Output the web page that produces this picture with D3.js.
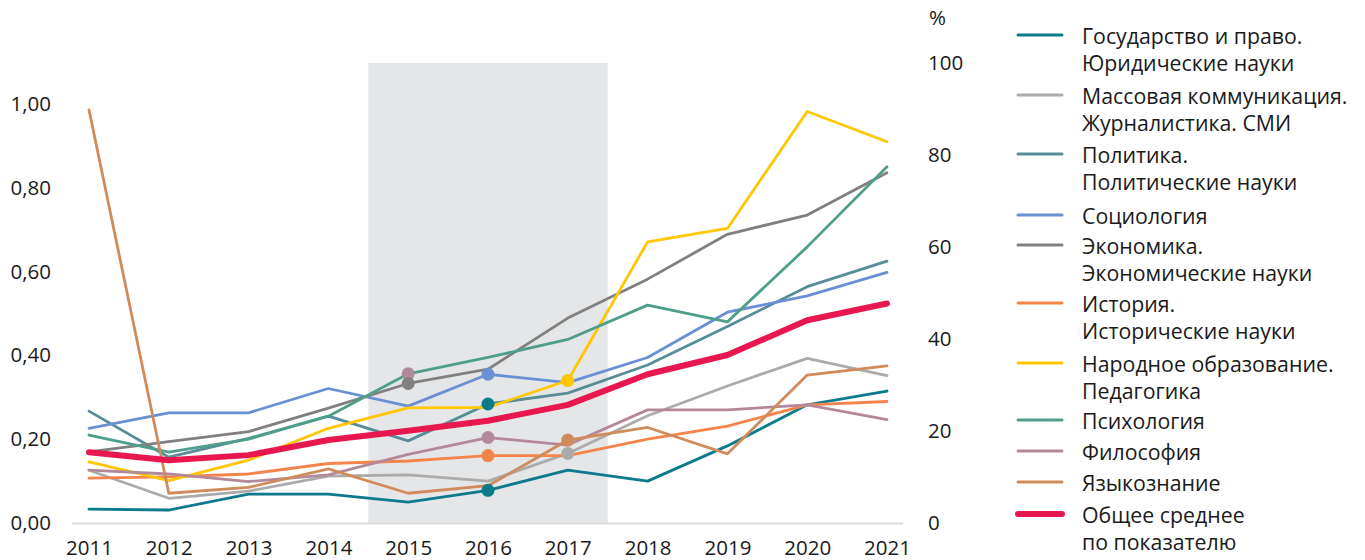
<!DOCTYPE html>
<html>
<head>
<meta charset="utf-8">
<script src="https://cdn.jsdelivr.net/npm/d3@7"></script>
<style>
  html, body { margin: 0; padding: 0; background: #fff; }
  svg { display: block; font-family: "Open Sans", "Noto Sans", sans-serif; }
</style>
</head>
<body>
<svg id="chart" width="1365" height="560"></svg>
<script>
// ---------- DATA ----------
const years = [2011, 2012, 2013, 2014, 2015, 2016, 2017, 2018, 2019, 2020, 2021];

const seriesNames = [
  ["Государство и право.", "Юридические науки"],
  ["Массовая коммуникация.", "Журналистика. СМИ"],
  ["Политика.", "Политические науки"],
  ["Социология"],
  ["Экономика.", "Экономические науки"],
  ["История.", "Исторические науки"],
  ["Народное образование.", "Педагогика"],
  ["Психология"],
  ["Философия"],
  ["Языкознание"],
  ["Общее среднее", "по показателю"]
];

const gosudarstvo   = [0.033, 0.031, 0.069, 0.069, 0.050, 0.078, 0.126, 0.100, 0.184, 0.282, 0.315];
const massovaya     = [0.126, 0.059, 0.076, 0.112, 0.115, 0.100, 0.166, 0.256, 0.327, 0.393, 0.352];
const politika      = [0.267, 0.157, 0.202, 0.255, 0.196, 0.284, 0.310, 0.377, 0.469, 0.564, 0.625];
const sociologiya   = [0.226, 0.263, 0.263, 0.321, 0.279, 0.355, 0.335, 0.395, 0.503, 0.542, 0.598];
const ekonomika     = [0.170, 0.194, 0.218, 0.274, 0.333, 0.367, 0.489, 0.582, 0.689, 0.735, 0.836];
const istoriya      = [0.107, 0.110, 0.117, 0.142, 0.148, 0.161, 0.161, 0.200, 0.231, 0.282, 0.290];
const pedagogika    = [0.146, 0.101, 0.150, 0.226, 0.275, 0.276, 0.340, 0.671, 0.703, 0.982, 0.910];
const psihologiya   = [0.210, 0.169, 0.200, 0.255, 0.356, 0.395, 0.438, 0.520, 0.480, 0.659, 0.850];
const filosofiya    = [0.126, 0.117, 0.099, 0.115, 0.164, 0.204, 0.186, 0.270, 0.270, 0.282, 0.247];
const yazykoznanie  = [0.986, 0.071, 0.085, 0.129, 0.071, 0.089, 0.198, 0.228, 0.165, 0.353, 0.375];
const obshee        = [0.169, 0.150, 0.162, 0.198, 0.220, 0.244, 0.282, 0.355, 0.401, 0.484, 0.524];

const seriesValues = [gosudarstvo, massovaya, politika, sociologiya, ekonomika, istoriya,
                      pedagogika, psihologiya, filosofiya, yazykoznanie, obshee];

const seriesColors = ["#0b7a8b", "#ababab", "#588d97", "#6a8fd2", "#808080", "#f5844a",
                      "#ffc700", "#4f9e8b", "#b3899a", "#cf8b5c", "#e8174f"];

const leftTicks  = [0, 0.2, 0.4, 0.6, 0.8, 1.0];
const rightTicks = [0, 20, 40, 60, 80, 100];

// highlighted period (band) and highlighted points: [year, series index, colour index]
const bandYears = [2014.5, 2017.5];
const markers = [
  [2015, 7, 8], [2015, 4, 4],
  [2016, 3, 3], [2016, 2, 0], [2016, 8, 8], [2016, 5, 5], [2016, 0, 0],
  [2017, 6, 6], [2017, 9, 9], [2017, 1, 1]
];

// ---------- CHART ----------
const svg = d3.select("#chart");

const x = d3.scaleLinear().domain([2011, 2021]).range([89, 887]);
const yL = d3.scaleLinear().domain([0, 1]).range([523, 104]);
const yR = d3.scaleLinear().domain([0, 100]).range([523, 63]);

// band
svg.append("rect")
  .attr("x", x(bandYears[0]))
  .attr("y", yR(100))
  .attr("width", x(bandYears[1]) - x(bandYears[0]))
  .attr("height", yR(0) - yR(100))
  .attr("fill", "#e5e6e8");

// baseline
svg.append("line")
  .attr("x1", 72).attr("x2", 903)
  .attr("y1", yL(0) + 0.5).attr("y2", yL(0) + 0.5)
  .attr("stroke", "#dcdcdc").attr("stroke-width", 2);

// left axis
const fmt = v => d3.format(".2f")(v).replace(".", ",");
const gL = svg.append("g")
  .attr("transform", "translate(51,0)")
  .call(d3.axisLeft(yL).tickValues(leftTicks).tickFormat(fmt).tickSize(0).tickPadding(0));
gL.select(".domain").remove();
gL.selectAll("text").attr("font-size", 20.5).attr("fill", "#1a1a1a")
  .attr("font-family", "'Open Sans', sans-serif");

// right axis
const gR = svg.append("g")
  .attr("transform", "translate(928,0)")
  .call(d3.axisRight(yR).tickValues(rightTicks).tickFormat(d3.format("d")).tickSize(0).tickPadding(0));
gR.select(".domain").remove();
gR.selectAll("text").attr("font-size", 20.5).attr("fill", "#1a1a1a")
  .attr("font-family", "'Open Sans', sans-serif");
svg.append("text").attr("x", 929).attr("y", 25).attr("font-size", 20.5).attr("fill", "#1a1a1a").text("%");

// bottom axis
const gB = svg.append("g")
  .attr("transform", `translate(0,${yL(0) + 17})`)
  .call(d3.axisBottom(x).tickValues(years).tickFormat(d3.format("d")).tickSize(0).tickPadding(0));
gB.select(".domain").remove();
gB.selectAll("text").attr("font-size", 20.5).attr("fill", "#1a1a1a")
  .attr("font-family", "'Open Sans', sans-serif");

// lines
const line = d3.line().x((d, i) => x(years[i])).y(d => yL(d));
seriesValues.forEach((vals, i) => {
  svg.append("path")
    .datum(vals)
    .attr("d", line)
    .attr("fill", "none")
    .attr("stroke", seriesColors[i])
    .attr("stroke-width", i === 10 ? 6 : 2.8)
    .attr("stroke-linejoin", "round")
    .attr("stroke-linecap", "round");
});

// markers
markers.forEach(([yr, si, ci]) => {
  const idx = years.indexOf(yr);
  svg.append("circle")
    .attr("cx", x(yr))
    .attr("cy", yL(seriesValues[si][idx]))
    .attr("r", 6.5)
    .attr("fill", seriesColors[ci]);
});

// legend
const legendRows = [35, 95, 154, 215, 245, 303, 363, 420, 451, 482, 514];
const leg = svg.append("g");
seriesNames.forEach((names, i) => {
  const yy = legendRows[i];
  leg.append("line")
    .attr("x1", 1018).attr("x2", 1062)
    .attr("y1", yy).attr("y2", yy)
    .attr("stroke", seriesColors[i])
    .attr("stroke-width", i === 10 ? 6 : 3)
    .attr("stroke-linecap", "round");
  names.forEach((t, j) => {
    leg.append("text")
      .attr("x", 1082)
      .attr("y", yy + 9 + j * 27)
      .attr("font-size", 21.3)
      .attr("fill", "#1a1a1a")
      .text(t);
  });
});
</script>
</body>
</html>
